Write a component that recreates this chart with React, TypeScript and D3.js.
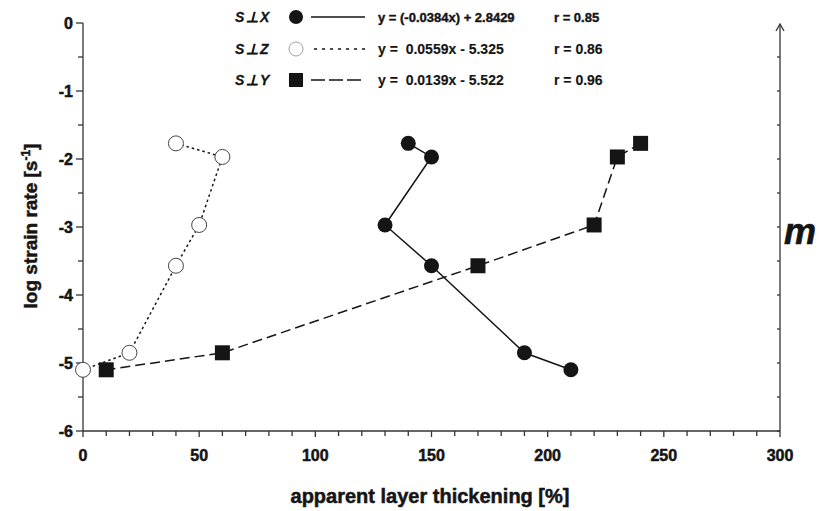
import React from "react";
import * as d3 from "d3";

// Strain rate levels (log s^-1) shared by all three orientations
const logRates = [-1.77, -1.97, -2.97, -3.57, -4.85, -5.1];

// Apparent layer thickening [%] per orientation, in the same order as logRates
const thickX = [140, 150, 130, 150, 190, 210];
const thickZ = [40, 60, 50, 40, 20, 0];
const thickY = [240, 230, 220, 170, 60, 10];

const seriesNames = ["S\u22A5X", "S\u22A5Z", "S\u22A5Y"];
const equations = [
  "y = (-0.0384x) + 2.8429",
  "y =  0.0559x - 5.325",
  "y =  0.0139x - 5.522",
];
const rValues = ["r = 0.85", "r = 0.86", "r = 0.96"];

const xTicks = [0, 50, 100, 150, 200, 250, 300];
const yTicks = [0, -1, -2, -3, -4, -5, -6];

const W = 819;
const H = 511;
const ink = "#151515";
const font = "'Liberation Sans', Arial, sans-serif";

export default function App() {
  const x = d3.scaleLinear().domain([0, 300]).range([83, 780]);
  const y = d3.scaleLinear().domain([0, -6]).range([23, 431]);

  const pts = (xs: number[]) => xs.map((v, i) => [v, logRates[i]] as [number, number]);
  const line = d3
    .line<[number, number]>()
    .x((d) => x(d[0]))
    .y((d) => y(d[1]));

  const dataX = pts(thickX);
  const dataZ = pts(thickZ);
  const dataY = pts(thickY);

  const xMinor = d3.range(0, 301, 10);
  const yMinor = d3.range(0, -6.01, -0.5);

  const legendRows = [17, 49, 80];

  return (
    <svg width={W} height={H} style={{ position: "absolute", left: 0, top: 0, background: "#fff" }}>
      <rect width={W} height={H} fill="#fff" />
      {/* axes */}
      <g stroke="#333" strokeWidth={1.3} fill="none">
        <line x1={x(0)} x2={x(0)} y1={y(0)} y2={y(-6)} />
        <line x1={x(0)} x2={x(300)} y1={y(-6)} y2={y(-6)} />
        <line x1={x(300)} x2={x(300)} y1={y(-6)} y2={y(0) + 2} />
        <path d={`M${x(300) - 4},${y(0) + 8} L${x(300)},${y(0) + 1} L${x(300) + 4},${y(0) + 8}`} />
        {yMinor.map((v) => (
          <line key={"yl" + v} x1={x(0)} x2={x(0) - (Number.isInteger(v) ? 7 : 5)} y1={y(v)} y2={y(v)} />
        ))}
        {yMinor.slice(1).map((v) => (
          <line key={"yr" + v} x1={x(300)} x2={x(300) - 3} y1={y(v)} y2={y(v)} />
        ))}
        {xMinor.map((v) => (
          <line key={"xt" + v} x1={x(v)} x2={x(v)} y1={y(-6)} y2={y(-6) + (v % 50 === 0 ? 6 : 5)} />
        ))}
      </g>
      {/* tick labels */}
      <g fontFamily={font} fontWeight="bold" fontSize={16} fill={ink} stroke={ink} strokeWidth={0.5}>
        {yTicks.map((v) => (
          <text key={"yl" + v} x={x(0) - 10} y={y(v)} dy="0.36em" textAnchor="end">
            {v === 0 ? "0" : "-" + Math.abs(v)}
          </text>
        ))}
        {xTicks.map((v) => (
          <text key={"xl" + v} x={x(v)} y={y(-6) + 30} textAnchor="middle">
            {v}
          </text>
        ))}
      </g>
      {/* axis titles */}
      <text
        x={430}
        y={503}
        textAnchor="middle"
        fontFamily={font}
        fontWeight="bold"
        fontSize={20}
        fill={ink}
        stroke={ink}
        strokeWidth={0.5}
      >
        apparent layer thickening [%]
      </text>
      <text
        transform={`translate(37,226) rotate(-90)`}
        textAnchor="middle"
        fontFamily={font}
        fontWeight="bold"
        fontSize={19}
        fill={ink}
        stroke={ink}
        strokeWidth={0.5}
      >
        log strain rate [s<tspan dy={-7} fontSize={12}>-1</tspan>
        <tspan dy={7}>]</tspan>
      </text>
      <text
        x={784}
        y={244}
        fontFamily={font}
        fontWeight="bold"
        fontStyle="italic"
        fontSize={36}
        fill={ink}
        stroke={ink}
        strokeWidth={0.6}
      >
        m
      </text>

      {/* series lines */}
      <g fill="none" stroke={ink} strokeWidth={1.5}>
        <path d={line(dataX) ?? ""} />
        <path d={line(dataZ) ?? ""} strokeDasharray="2.5,3" />
        <path d={line(dataY) ?? ""} strokeDasharray="10,5" />
      </g>
      {/* markers */}
      <g>
        {dataX.map((d, i) => (
          <circle key={"cx" + i} cx={x(d[0])} cy={y(d[1])} r={7.5} fill={ink} />
        ))}
        {dataZ.map((d, i) => (
          <circle key={"cz" + i} cx={x(d[0])} cy={y(d[1])} r={7.5} fill="#fff" stroke="#444" strokeWidth={1} />
        ))}
        {dataY.map((d, i) => (
          <rect key={"sy" + i} x={x(d[0]) - 7.5} y={y(d[1]) - 7.5} width={15} height={15} fill={ink} />
        ))}
      </g>

      {/* legend */}
      <g fontFamily={font} fill={ink}>
        {seriesNames.map((n, i) => (
          <text
            key={"ln" + i}
            x={235}
            y={legendRows[i]}
            dy="0.36em"
            fontSize={14}
            fontWeight="bold"
            fontStyle="italic"
            letterSpacing={1.8}
            stroke={ink}
            strokeWidth={0.3}
          >
            {n}
          </text>
        ))}
        <circle cx={296} cy={legendRows[0]} r={7} fill={ink} />
        <circle cx={296} cy={legendRows[1]} r={7} fill="#fff" stroke="#888" strokeWidth={0.8} />
        <rect x={289} y={legendRows[2] - 7} width={14} height={14} fill={ink} />
        <g stroke={ink} strokeWidth={1.3}>
          <line x1={311} x2={365} y1={legendRows[0]} y2={legendRows[0]} />
          <line x1={314} x2={365} y1={legendRows[1]} y2={legendRows[1]} strokeDasharray="3,5" />
          <line x1={311} x2={365} y1={legendRows[2]} y2={legendRows[2]} strokeDasharray="14,4" />
        </g>
        {equations.map((e, i) => (
          <text
            key={"eq" + i}
            x={378}
            y={legendRows[i]}
            dy="0.36em"
            fontSize={i === 0 ? 13 : 14}
            fontWeight="bold"
            stroke={ink}
            strokeWidth={i === 0 ? 0.4 : 0.15}
            style={{ whiteSpace: "pre" }}
          >
            {e}
          </text>
        ))}
        {rValues.map((r, i) => (
          <text
            key={"r" + i}
            x={554}
            y={legendRows[i]}
            dy="0.36em"
            fontSize={i === 0 ? 13 : 14}
            fontWeight="bold"
            stroke={ink}
            strokeWidth={i === 0 ? 0.4 : 0.15}
          >
            {r}
          </text>
        ))}
      </g>
    </svg>
  );
}
